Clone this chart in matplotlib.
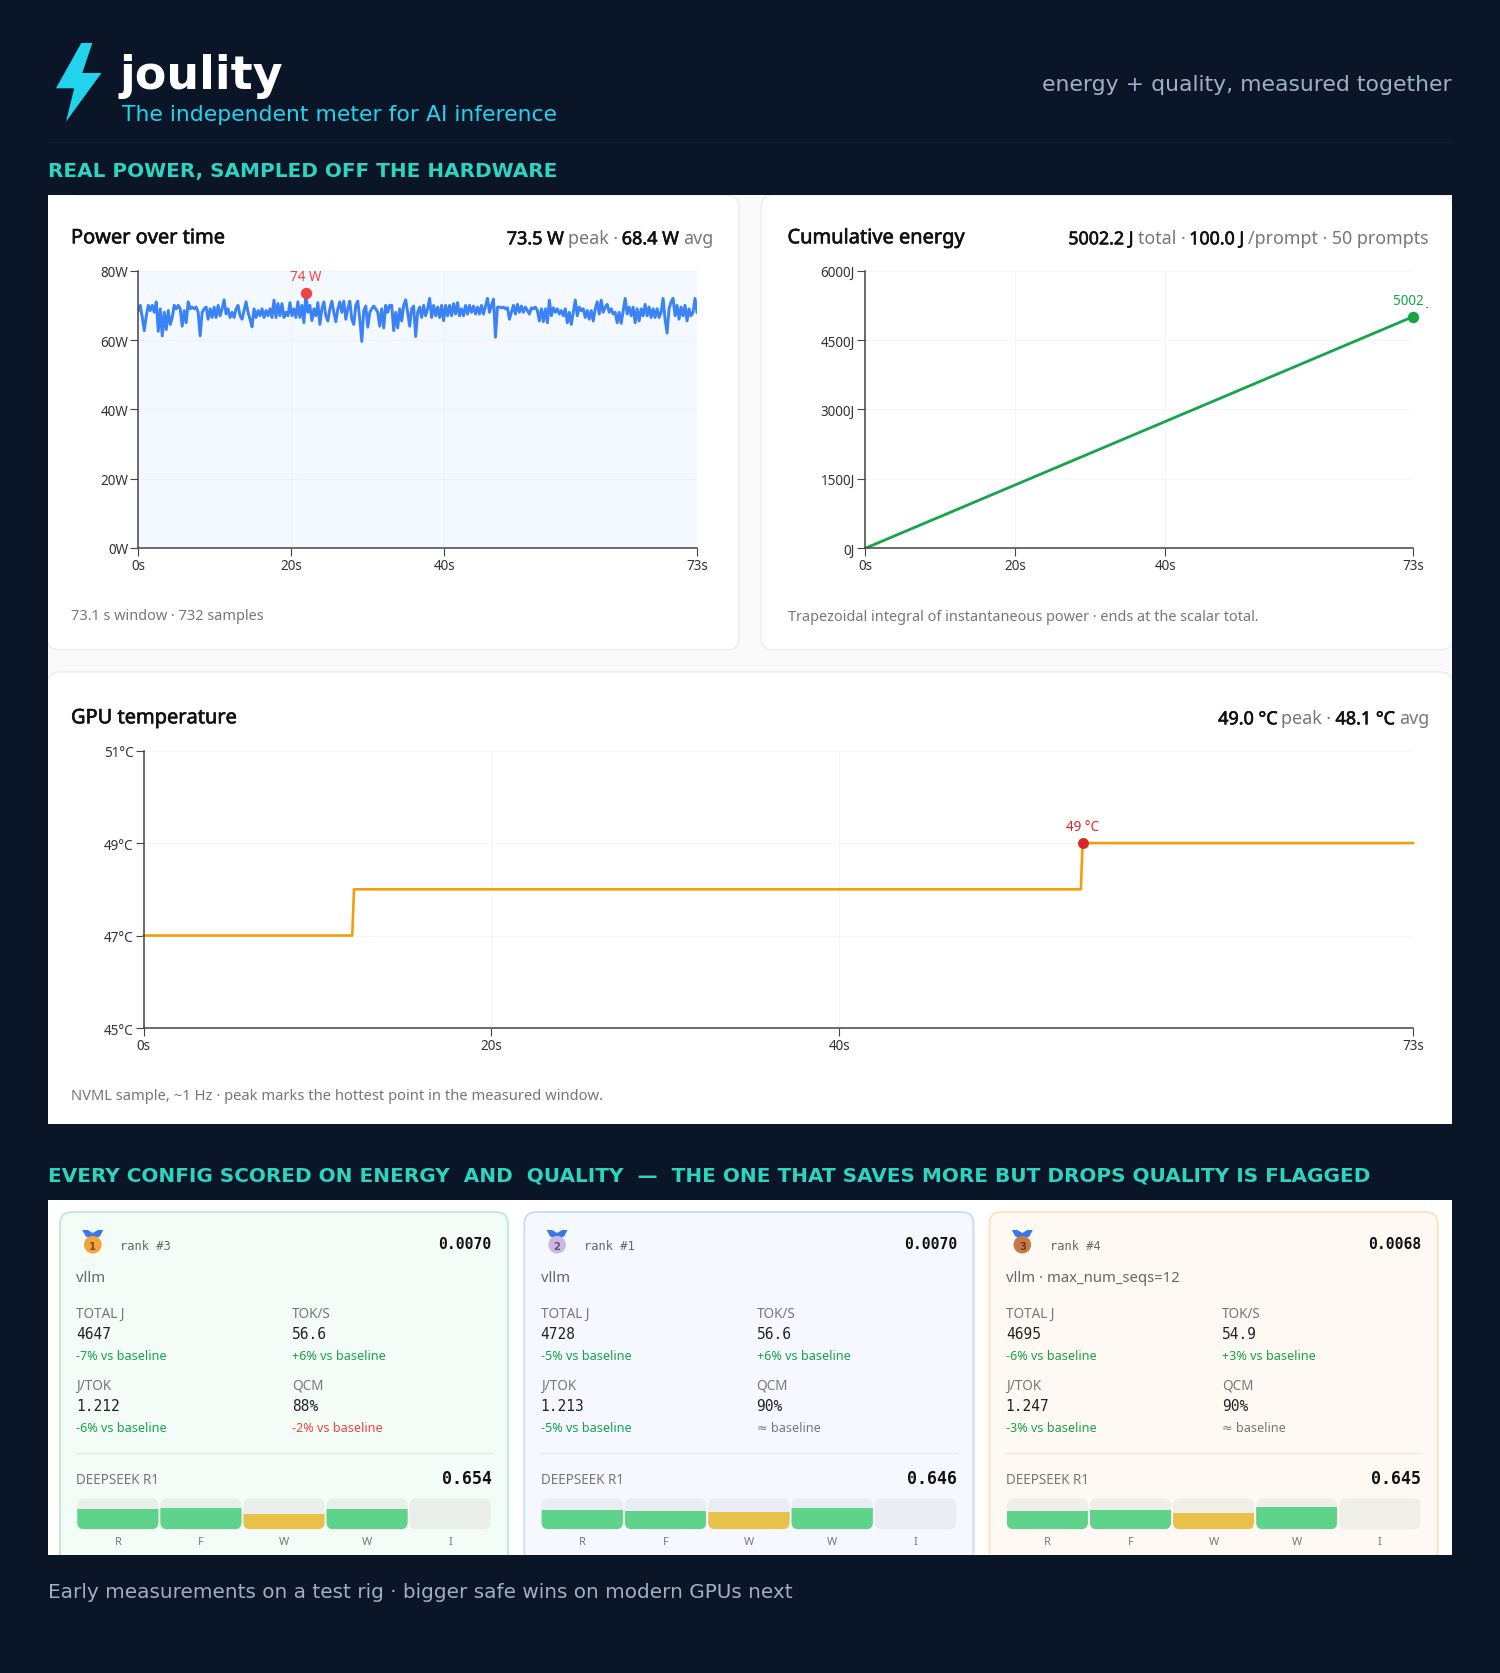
import numpy as np
import matplotlib
matplotlib.use('Agg')
import matplotlib.pyplot as plt
import matplotlib.patheffects as pe
from matplotlib.patches import FancyBboxPatch, Polygon, Rectangle, Circle

W, H = 1500, 1674
BG = '#0a1628'
UI = ['Noto Sans', 'DejaVu Sans']
MONO = 'DejaVu Sans Mono'

# power trace left to right (W)
power_w = [
    68.5, 70, 66.5, 62.7, 67, 70, 68.5, 70, 68, 71, 62.5, 69, 61.2, 68, 63, 68.5,
    64.5, 66.5, 70, 69, 70, 69, 64, 68.5, 65, 71, 69, 69.5, 69, 69.5, 68, 61.2,
    68, 69, 69.5, 66, 69, 66.5, 69.5, 66.5, 70, 67, 69, 71.6, 67.5, 69, 66.5, 68,
    66.5, 69, 70, 67, 66, 68.5, 71, 68, 66, 63.8, 69, 66.5, 68.5, 67, 69, 66.5,
    68.5, 67, 69, 66.5, 71.5, 66.5, 70.5, 67, 70.5, 66.5, 68, 67, 70.8, 67, 69, 66.5,
    71, 66.5, 70, 65, 73.5, 68, 70, 65.6, 69, 67, 70.8, 64.5, 69,
    71, 67, 65.5, 69, 71.2, 68, 65.3, 69, 71, 68, 71.2, 66, 69, 71.2, 66, 64.5,
    70, 71.2, 66, 59.6, 68.5, 69.8, 63.7, 68, 69, 69.8, 69, 68, 64, 69, 63.5, 70,
    68, 70, 70, 62.7, 68, 63.5, 69, 65.5, 70, 71.6, 68, 64, 69, 69.8, 61, 68,
    69.5, 66.5, 70, 67, 69, 72, 66.5, 70, 67, 69.5, 66.5, 70, 65.6, 70, 67, 70,
    67, 70.5, 67.5, 70.8, 67, 69, 67, 70, 67.5, 70, 68, 69.8, 67.5, 69.5, 67.5, 70,
    67.5, 69.8, 72, 68, 70, 71.8, 60.8, 69.5, 69.5, 69.3, 69.5, 69, 69.3, 66,
    68, 70, 67.5, 70.3, 68, 69.8, 68, 69.5, 68.5, 67.5, 69.3, 69, 69.5, 68.5, 65.5, 69,
    65.3, 69, 65, 71.5, 67, 69.3, 68, 69, 67.5, 68.5, 67, 69, 65, 68, 64.5, 68,
    71.5, 67, 69.5, 68.5, 69, 66.5, 68.5, 66, 68.5, 65.5, 69, 71, 67.5, 71.5, 68, 69.5,
    70.3, 68, 69, 67.5, 68, 65, 68, 64.8, 68.5, 72, 67.5, 69.5, 67, 69.5, 65, 69,
    65.5, 69, 67, 70.3, 67, 69.5, 66.5, 69, 66.5, 69, 66.5, 68, 72, 66, 62, 69,
    71, 72, 67, 70, 66, 69.5, 67, 70, 65.5, 69, 67, 68, 72, 68,
]
energy_t = [0, 20, 40, 73]
energy_j = [0, 1370, 2740, 5002]
temp_t = [0, 12.0, 12.1, 53.9, 54.0, 73]
temp_c = [47, 47, 48, 48, 49, 49]

x_ticks = [0, 20, 40, 73]
x_labels = ['0s', '20s', '40s', '73s']

# one entry per result card
card_ranks = ['rank #3', 'rank #1', 'rank #4']
card_scores = ['0.0070', '0.0070', '0.0068']
card_names = ['vllm', 'vllm', 'vllm · max_num_seqs=12']
card_total = ['4647', '4728', '4695']
card_toks = ['56.6', '56.6', '54.9']
card_jtok = ['1.212', '1.213', '1.247']
card_qcm = ['88%', '90%', '90%']
delta_total = ['-7% vs baseline', '-5% vs baseline', '-6% vs baseline']
delta_toks = ['+6% vs baseline', '+6% vs baseline', '+3% vs baseline']
delta_jtok = ['-6% vs baseline', '-5% vs baseline', '-3% vs baseline']
delta_qcm = ['-2% vs baseline', '≈ baseline', '≈ baseline']
card_r1 = ['0.654', '0.646', '0.645']
rwfwi_labels = ['R', 'F', 'W', 'W', 'I']
rwfwi_values = [
    [0.66, 0.70, 0.50, 0.66, 0.0],
    [0.63, 0.59, 0.56, 0.68, 0.0],
    [0.60, 0.63, 0.53, 0.73, 0.0],
]
rwfwi_colors = ['#5fd38a', '#5fd38a', '#e8c14b', '#5fd38a', '#5fd38a']

fig = plt.figure(figsize=(W / 100, H / 100), dpi=100, facecolor=BG)
bg = fig.add_axes([0, 0, 1, 1], zorder=0)
bg.set_xlim(0, W)
bg.set_ylim(H, 0)
bg.axis('off')


def px(size):
    return size * 0.72


def label(x, y, s, size, color, weight='normal', family=UI, ha='left', zorder=5):
    # Noto Sans only comes in regular here, so 'semi' thickens it with a thin stroke
    if weight == 'semi':
        y += 1.3
    t = bg.text(x, y, s, fontsize=px(size), color=color,
                fontweight='normal' if weight == 'semi' else weight,
                family=family, ha=ha, va='baseline', zorder=zorder)
    if weight == 'semi':
        t.set_path_effects([pe.withStroke(linewidth=0.45, foreground=color)])
    return t


def rect_ax(l, t, r, b, zorder=2):
    return fig.add_axes([l / W, 1 - b / H, (r - l) / W, (b - t) / H], zorder=zorder)


def rounded(l, t, r, b, radius, face, edge='none', lw=1.0, clip=None, zorder=1):
    p = FancyBboxPatch((l + radius, t + radius), r - l - 2 * radius, b - t - 2 * radius,
                       boxstyle='round,pad=%f,rounding_size=%f' % (radius, radius),
                       facecolor=face, edgecolor=edge, linewidth=lw, zorder=zorder)
    bg.add_patch(p)
    if clip is not None:
        p.set_clip_path(clip)
    return p


def right_runs(x, y, runs, size, gap=4.0):
    # mixed bold/grey stats line, laid out from the right edge
    renderer = fig.canvas.get_renderer()
    for s, color, weight in reversed(runs):
        t = label(x, y, s, size, color, weight=weight, ha='right')
        x -= t.get_window_extent(renderer).width + gap


def style_chart(ax, yticks, ylabels, ylim, grid='#f5f5f6'):
    ax.set_xlim(0, 73)
    ax.set_ylim(*ylim)
    ax.set_xticks(x_ticks)
    ax.set_xticklabels(x_labels)
    ax.set_yticks(yticks)
    ax.set_yticklabels(ylabels)
    ax.grid(True, color=grid, lw=0.7)
    ax.set_axisbelow(True)
    ax.spines['top'].set_visible(False)
    ax.spines['right'].set_visible(False)
    for side in ('left', 'bottom'):
        ax.spines[side].set_color('#444444')
        ax.spines[side].set_linewidth(1.1)
    ax.tick_params(length=px(8), width=0.8, color='#444444', labelcolor='#333333',
                   labelsize=px(13.5), pad=1.5)
    for t in ax.get_xticklabels() + ax.get_yticklabels():
        t.set_family(UI)


# header
bg.add_patch(Polygon([(81.3, 44), (92.3, 44), (82.3, 74), (101.4, 74), (66, 122.7),
                      (74.2, 89.3), (56, 89.3)], closed=True, facecolor='#22d3ee',
                     edgecolor='none'))
label(120, 89, 'joulity', 46, 'white', weight='bold', family='DejaVu Sans')
label(122, 120.5, 'The independent meter for AI inference', 21.9, '#22d3ee', family='DejaVu Sans')
label(1451.5, 91, 'energy + quality, measured together', 21.9, '#9fb0c6', family='DejaVu Sans', ha='right')
bg.plot([48, 1452], [143, 143], color='#101f36', lw=1)
label(48, 176.5, 'REAL POWER, SAMPLED OFF THE HARDWARE', 20, '#2dd4bf', weight='bold', family='DejaVu Sans')
label(48, 1181, 'EVERY CONFIG SCORED ON ENERGY  AND  QUALITY  —  THE ONE THAT SAVES MORE BUT DROPS QUALITY IS FLAGGED',
      20, '#2dd4bf', weight='bold', family='DejaVu Sans')
label(48, 1598, 'Early measurements on a test rig · bigger safe wins on modern GPUs next', 20,
      '#9fb0c6', family='DejaVu Sans')

# panel behind the charts
panel = Rectangle((48, 196), 1404, 929, facecolor='#fafafa', edgecolor='none', zorder=0.5)
bg.add_patch(panel)
for l, t, r, b in [(47, 196, 739, 651), (761, 196, 1453, 651), (47, 673, 1453, 1140)]:
    rounded(l, t, r, b, 13, 'white', edge='#ececec', lw=1, clip=panel)
bg.add_patch(Rectangle((48, 196), 30, 30, facecolor='white', edgecolor='none', zorder=1.1))

# power over time
label(71, 243, 'Power over time', 20, '#111111', weight='semi')
right_runs(713, 244, [('73.5 W', '#111111', 'semi'), ('peak ·', '#777777', 'normal'),
                      ('68.4 W', '#111111', 'semi'), ('avg', '#777777', 'normal')], 18)
label(71, 620, '73.1 s window · 732 samples', 14.5, '#777777')
ax = rect_ax(138.3, 271.7, 697, 549)
ax.set_facecolor('#f4f8ff')
style_chart(ax, [0, 20, 40, 60, 80], ['0W', '20W', '40W', '60W', '80W'], (0, 80), grid='#eef1f9')
power_t = np.linspace(0, 73, len(power_w))
ax.plot(power_t, power_w, color='#3b82f6', lw=2.1, solid_joinstyle='round')
peak = int(np.argmax(power_w))
ax.plot([power_t[peak]], [power_w[peak]], 'o', color='#ef4444', ms=px(10), clip_on=False, zorder=5)
ax.annotate('74 W', (power_t[peak], power_w[peak]), xytext=(0, px(13)), textcoords='offset points',
            ha='center', va='baseline', color='#ef4444', fontsize=px(13.5), family=UI)

# cumulative energy
label(787.5, 243, 'Cumulative energy', 20, '#111111', weight='semi')
right_runs(1429, 244, [('5002.2 J', '#111111', 'semi'), ('total ·', '#777777', 'normal'),
                       ('100.0 J', '#111111', 'semi'), ('/prompt · 50 prompts', '#777777', 'normal')], 17.8)
label(787.5, 620.5, 'Trapezoidal integral of instantaneous power · ends at the scalar total.', 14.5, '#777777')
ax = rect_ax(865.2, 271.5, 1413, 549.3)
style_chart(ax, [0, 1500, 3000, 4500, 6000], ['0J', '1500J', '3000J', '4500J', '6000J'], (0, 6000))
ax.plot(energy_t, energy_j, color='#16a34a', lw=2.0)
ax.plot(energy_t[-1], energy_j[-1], 'o', color='#16a34a', ms=px(10), clip_on=False, zorder=5)
end_label = ax.annotate('5002 J', (energy_t[-1], energy_j[-1]), xytext=(-1, px(13)),
                        textcoords='offset points', ha='center', va='baseline',
                        color='#16a34a', fontsize=px(13.5), family=UI)
end_label.set_clip_on(True)
end_label.set_clip_path(Rectangle((860, 260), 567.5, 300, transform=bg.transData))

# gpu temperature
label(71, 723, 'GPU temperature', 20, '#111111', weight='semi')
right_runs(1429, 724, [('49.0 °C', '#111111', 'semi'), ('peak ·', '#777777', 'normal'),
                       ('48.1 °C', '#111111', 'semi'), ('avg', '#777777', 'normal')], 18)
label(71, 1100.5, 'NVML sample, ~1 Hz · peak marks the hottest point in the measured window.', 14.75, '#777777')
ax = rect_ax(143.6, 751.6, 1413, 1029)
style_chart(ax, [45, 47, 49, 51], ['45°C', '47°C', '49°C', '51°C'], (45, 51))
ax.plot(temp_t, temp_c, color='#f59e0b', lw=1.9, clip_on=False)
ax.plot(temp_t[4], temp_c[4], 'o', color='#dc2626', ms=px(9.5), clip_on=False, zorder=5)
ax.annotate('49 °C', (temp_t[4], temp_c[4]), xytext=(0, px(13)), textcoords='offset points',
            ha='center', va='baseline', color='#dc2626', fontsize=px(13.5), family=UI)

# result cards
bottom = Rectangle((48, 1201), 1404, 355, facecolor='white', edgecolor='none', zorder=0.5)
bg.add_patch(bottom)
card_edges = [(60, 508), (524.3, 973.5), (989.5, 1437.7)]
card_face = ['#f3fcf7', '#f5f8ff', '#fff9f3']
card_line = ['#bbecd0', '#c7daf7', '#fbe3b8']
track_color = ['#eaeeeb', '#e9edf3', '#f0eee9']
medal_color = ['#f4a23a', '#cdb8e3', '#c47a4b']
medal_text = ['#7a4e14', '#5f5073', '#6e3d1b']
GOOD, BAD, FLAT = '#16a34a', '#ef4444', '#777777'

for i in range(3):
    left, right = card_edges[i]
    x0 = left + 16.3
    x1 = x0 + 216
    x2 = right - 16.3
    rounded(left, 1213, right, 1590, 12, card_face[i], edge=card_line[i], lw=1.3, clip=bottom)

    # medal
    cx = x0 + 16.5
    bg.add_patch(Polygon([(cx - 10.5, 1231), (cx - 5, 1231), (cx, 1234), (cx + 5, 1231), (cx + 10.5, 1231),
                          (cx + 7, 1237.5), (cx + 2, 1239), (cx - 2, 1239), (cx - 7, 1237.5)], closed=True,
                         facecolor='#3b78e7', edgecolor='none', zorder=3))
    bg.add_patch(Circle((cx, 1245.7), 8.8, facecolor=medal_color[i], edgecolor='none', zorder=3))
    label(cx, 1249.5, str(i + 1), 10, medal_text[i], weight='bold', family='DejaVu Sans', ha='center')

    label(x0 + 43.7, 1250, card_ranks[i], 12, '#666666', family=MONO)
    label(x2, 1249.3, card_scores[i], 14.8, '#111111', weight='bold', family=MONO, ha='right')
    label(x0, 1282.5, card_names[i], 14.85, '#666666')

    label(x0, 1318.3, 'TOTAL J', 13.5, '#777777')
    label(x0, 1339.3, card_total[i], 14.5, '#222222', family=MONO)
    label(x0, 1360, delta_total[i], 12.6, GOOD)
    label(x1, 1318.3, 'TOK/S', 13.5, '#777777')
    label(x1, 1339.3, card_toks[i], 14.5, '#222222', family=MONO)
    label(x1, 1360, delta_toks[i], 12.6, GOOD)
    label(x0, 1390, 'J/TOK', 13.5, '#777777')
    label(x0, 1411.3, card_jtok[i], 14.5, '#222222', family=MONO)
    label(x0, 1431.7, delta_jtok[i], 12.6, GOOD)
    label(x1, 1390, 'QCM', 13.5, '#777777')
    label(x1, 1411.3, card_qcm[i], 14.5, '#222222', family=MONO)
    label(x1, 1431.7, delta_qcm[i], 12.6, BAD if delta_qcm[i].startswith('-') else FLAT)

    bg.plot([x0, x2], [1454.3, 1454.3], color='#e6e9ec', lw=0.9, zorder=3)
    label(x0, 1483.7, 'DEEPSEEK R1', 13.5, '#777777')
    label(x2, 1483.5, card_r1[i], 16.6, '#111111', weight='bold', family=MONO, ha='right')

    # RWFWI strip
    ax = rect_ax(x0, 1499.3, x2, 1530.3)
    ax.patch.set_alpha(0)
    ax.set_xlim(-0.5, 4.5)
    ax.set_ylim(0, 1)
    ax.set_yticks([])
    ax.set_xticks(range(5))
    ax.set_xticklabels(rwfwi_labels, family=UI)
    ax.tick_params(length=0, labelsize=px(11), labelcolor='#777777', pad=px(6.3))
    for side in ax.spines.values():
        side.set_visible(False)
    step = (x2 - x0) / 5
    for j in range(5):
        l = x0 + j * step + 1
        clip = rounded(l, 1499.3, l + step - 2, 1530.3, 7, track_color[i], zorder=2)
        bar = ax.bar(j, rwfwi_values[i][j], width=0.98, color=rwfwi_colors[j])[0]
        bar.set_clip_path(clip)

fig.savefig('out.png', dpi=100, facecolor=BG)
